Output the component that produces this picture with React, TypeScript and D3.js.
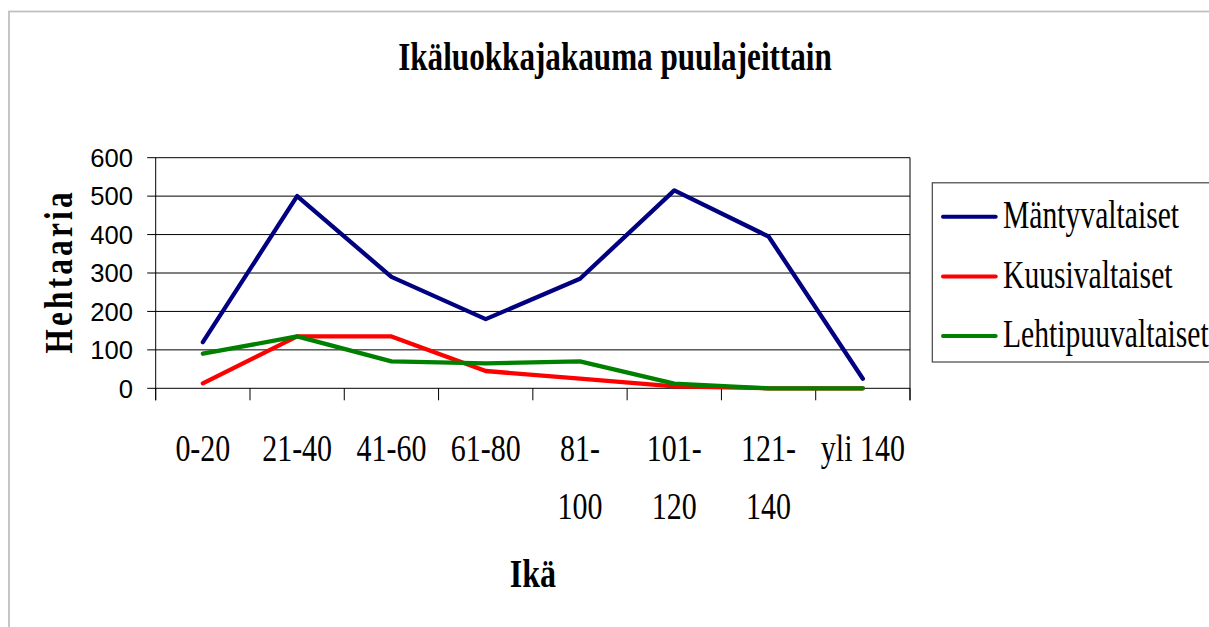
import * as d3 from 'd3';

const TITLE = 'Ikäluokkajakauma puulajeittain';
const X_TITLE = 'Ikä';
const Y_TITLE = 'Hehtaaria';

const ageClasses = ['0-20', '21-40', '41-60', '61-80', '81-100', '101-120', '121-140', 'yli 140'];
const yTicks = [0, 100, 200, 300, 400, 500, 600];

const seriesNames = ['Mäntyvaltaiset', 'Kuusivaltaiset', 'Lehtipuuvaltaiset'];
const mantyValues = [120, 500, 290, 180, 285, 515, 395, 25];
const kuusiValues = [13, 135, 135, 45, 25, 5, 0, 0];
const lehtiValues = [90, 135, 70, 65, 70, 12, 0, 0];
const seriesColours = ['#000080', '#ff0000', '#008000'];

const W = 1209;
const H = 627;
const plot = { left: 155.7, right: 910, top: 157.7, bottom: 388.3 };
const SERIF = '"Liberation Serif", "Times New Roman", serif';
const SANS = '"Liberation Sans", Arial, sans-serif';

// long ranges wrap after the hyphen, like the spreadsheet did
function splitLabel(s: string): string[] {
    if (s.length > 5 && s.includes('-')) {
        const i = s.indexOf('-');
        return [s.slice(0, i + 1), s.slice(i + 1)];
    }
    return [s];
}

export default function App() {
    const x = d3.scaleBand<string>().domain(ageClasses).range([plot.left, plot.right]).paddingInner(0).paddingOuter(0);
    const y = d3.scaleLinear().domain([0, 600]).range([plot.bottom, plot.top]);
    const cx = (c: string) => (x(c) ?? 0) + x.bandwidth() / 2;

    const series = [mantyValues, kuusiValues, lehtiValues];
    const line = d3
        .line<number>()
        .x((_d, i) => cx(ageClasses[i]))
        .y((d) => y(d));

    const boundaries = [...ageClasses.map((c) => x(c) ?? 0), plot.right];

    return (
        <svg
            width={W}
            height={H}
            viewBox={`0 0 ${W} ${H}`}
            style={{ position: 'absolute', left: 0, top: 0, background: '#fff' }}
        >
            <rect x={9} y={11.5} width={1240} height={640} fill="#fff" stroke="#c0c0c0" strokeWidth={1.8} />

            <text
                transform={`translate(615, 70) scale(0.76, 1)`}
                textAnchor="middle"
                fontFamily={SERIF}
                fontWeight="bold"
                fontSize={41}
            >
                {TITLE}
            </text>

            {/* grid + frame */}
            {yTicks.map((t) => (
                <line key={t} x1={plot.left - 8.5} x2={plot.right} y1={y(t)} y2={y(t)} stroke="#000" strokeWidth={1} />
            ))}
            <line x1={plot.left} x2={plot.left} y1={plot.top} y2={plot.bottom + 12} stroke="#000" />
            <line x1={plot.right} x2={plot.right} y1={plot.top} y2={plot.bottom + 12} stroke="#000" />
            {boundaries.map((b, i) => (
                <line key={i} x1={b} x2={b} y1={plot.bottom} y2={plot.bottom + 12} stroke="#000" />
            ))}

            {yTicks.map((t) => (
                <text
                    key={t}
                    x={133}
                    y={y(t)}
                    dy="0.36em"
                    textAnchor="end"
                    fontFamily={SANS}
                    fontSize={25.6}
                >
                    {t}
                </text>
            ))}

            {ageClasses.map((c) =>
                splitLabel(c).map((part, j) => (
                    <text
                        key={c + j}
                        transform={`translate(${cx(c)}, ${461 + j * 57.5}) scale(0.81, 1)`}
                        textAnchor="middle"
                        fontFamily={SERIF}
                        fontSize={37}
                    >
                        {part}
                    </text>
                ))
            )}

            <text
                transform={`translate(${(plot.left + plot.right) / 2}, 586.7) scale(0.8, 1)`}
                textAnchor="middle"
                fontFamily={SERIF}
                fontWeight="bold"
                fontSize={40}
            >
                {X_TITLE}
            </text>
            <text
                transform={`translate(71.7, ${(plot.top + plot.bottom) / 2}) rotate(-90) scale(0.78, 1)`}
                textAnchor="middle"
                fontFamily={SERIF}
                fontWeight="bold"
                fontSize={40}
                textLength={161 / 0.78}
                lengthAdjust="spacing"
            >
                {Y_TITLE}
            </text>

            {series.map((vals, i) => (
                <path
                    key={seriesNames[i]}
                    d={line(vals) ?? ''}
                    fill="none"
                    stroke={seriesColours[i]}
                    strokeWidth={4.3}
                    strokeLinejoin="round"
                    strokeLinecap="round"
                />
            ))}

            {/* legend */}
            <rect x={932.3} y={182.8} width={320} height={179.2} fill="#fff" stroke="#444" strokeWidth={1.2} />
            {seriesNames.map((name, i) => {
                const ly = 216.8 + i * 59.6;
                return (
                    <g key={name}>
                        <line x1={943} x2={995.7} y1={ly} y2={ly} stroke={seriesColours[i]} strokeWidth={4} strokeLinecap="round" />
                        <text
                            transform={`translate(1003, ${ly + 11.2}) scale(0.76, 1)`}
                            fontFamily={SERIF}
                            fontSize={39}
                        >
                            {name}
                        </text>
                    </g>
                );
            })}
        </svg>
    );
}
